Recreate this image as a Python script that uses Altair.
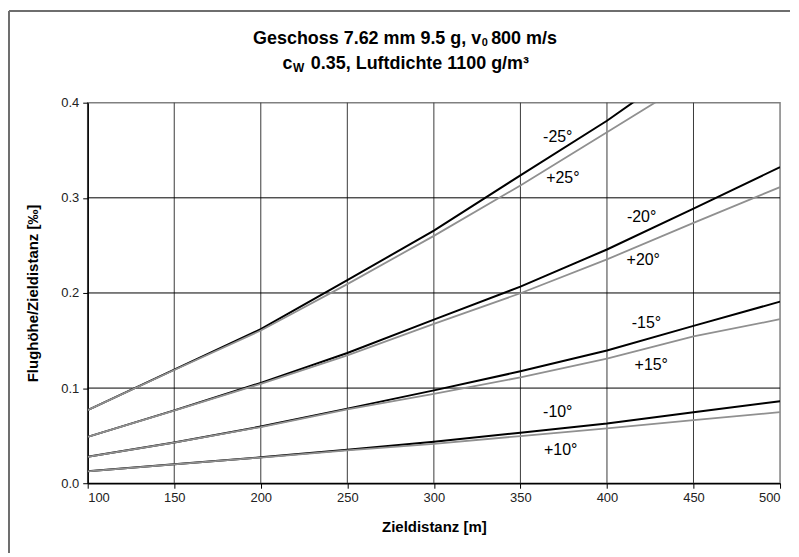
import altair as alt
import pandas as pd

# ---- data ----
distance = [100, 150, 200, 250, 300, 350, 400, 450, 500]
m25 = [0.0769, 0.1194, 0.1620, 0.2135, 0.2655, 0.3236, 0.3810, 0.4450, 0.5100]
p25 = [0.0769, 0.1190, 0.1605, 0.2093, 0.2600, 0.3130, 0.3690, 0.4250, 0.4850]
m20 = [0.0487, 0.0766, 0.1055, 0.1369, 0.1720, 0.2066, 0.2457, 0.2887, 0.3323]
p20 = [0.0487, 0.0763, 0.1045, 0.1344, 0.1675, 0.1997, 0.2353, 0.2736, 0.3113]
m15 = [0.0278, 0.0428, 0.0596, 0.0784, 0.0976, 0.1176, 0.1396, 0.1654, 0.1909]
p15 = [0.0278, 0.0426, 0.0590, 0.0776, 0.0938, 0.1113, 0.1309, 0.1543, 0.1724]
m10 = [0.0125, 0.0199, 0.0272, 0.0351, 0.0436, 0.0531, 0.0628, 0.0747, 0.0862]
p10 = [0.0125, 0.0198, 0.0270, 0.0346, 0.0414, 0.0496, 0.0576, 0.0663, 0.0747]

series_names = ["-25°", "+25°", "-20°", "+20°", "-15°", "+15°", "-10°", "+10°"]
series_values = [m25, p25, m20, p20, m15, p15, m10, p10]
series_kind = ["neg", "pos", "neg", "pos", "neg", "pos", "neg", "pos"]

label_text = ["-25°", "+25°", "-20°", "+20°", "-15°", "+15°", "-10°", "+10°"]
label_x = [371.6, 374.5, 420.0, 421.0, 422.8, 425.6, 371.6, 373.3]
label_y = [0.3637, 0.3204, 0.2801, 0.2346, 0.1686, 0.1246, 0.0744, 0.0349]

x_ticks = [100, 150, 200, 250, 300, 350, 400, 450, 500]
y_ticks = [0.0, 0.1, 0.2, 0.3, 0.4]
x_grid = [150, 200, 250, 300, 350, 400, 450]
y_grid = [0.1, 0.2, 0.3]

rows = []
for name, vals, kind in zip(series_names, series_values, series_kind):
    for d, v in zip(distance, vals):
        rows.append({"series": name, "kind": kind, "dist": d, "val": v})
df = pd.DataFrame(rows)
labels_df = pd.DataFrame({"t": label_text, "dist": label_x, "val": label_y})

W, H = 695, 382
FONT = "Liberation Sans"

xs = alt.Scale(domain=[100, 500], nice=False, zero=False)
ys = alt.Scale(domain=[0, 0.4], nice=False)

xenc = alt.X("dist:Q", scale=xs, axis=alt.Axis(
    values=x_ticks, format="d", grid=False, title="Zieldistanz [m]",
    titleX=W / 2, titleY=43, titleBaseline="middle", titleAlign="center"))
yenc = alt.Y("val:Q", scale=ys, axis=alt.Axis(
    values=y_ticks, format=".1f", grid=False, title="Flughöhe/Zieldistanz [‰]",
    titleX=-55, titleY=H / 2, titleBaseline="middle", titleAlign="center"))

lines = alt.Chart(df).mark_line(clip=True).encode(
    x=xenc, y=yenc,
    detail="series:N",
    color=alt.Color("kind:N", scale=alt.Scale(domain=["neg", "pos"], range=["#000000", "#909090"]), legend=None),
    strokeWidth=alt.StrokeWidth("kind:N", scale=alt.Scale(domain=["neg", "pos"], range=[2.0, 1.8]), legend=None),
)

vgrid = alt.Chart(pd.DataFrame({"g": x_grid})).mark_rule(color="#3a3a3a", strokeWidth=1).encode(
    x=alt.X("g:Q", scale=xs))
hgrid = alt.Chart(pd.DataFrame({"g": y_grid})).mark_rule(color="#000000", strokeWidth=1).encode(
    y=alt.Y("g:Q", scale=ys))

labels = alt.Chart(labels_df).mark_text(font=FONT, fontSize=16, color="#000000",
                                        align="center", baseline="middle").encode(
    x=alt.X("dist:Q", scale=xs), y=alt.Y("val:Q", scale=ys), text="t:N")

one = pd.DataFrame({"a": [0]})
def txt(s, x, y, size=18, align="left", weight="bold"):
    return alt.Chart(one).mark_text(font=FONT, fontSize=size, fontWeight=weight, color="#000000",
                                    align=align, baseline="middle").encode(
        x=alt.value(x), y=alt.value(y), text=alt.value(s))

title_parts = [
    txt("Geschoss 7.62 mm 9.5 g, v", 395, -63.7, align="right"),
    txt("0", 395.5, -59.5, size=11),
    txt("800 m/s", 405, -63.7),
    txt("c", 205.5, -38.7, align="right"),
    txt("W", 206, -34.5, size=12),
    txt("0.35, Luftdichte 1100 g/m³", 224, -38.7),
]

border_top = alt.Chart(one).mark_rule(color="#6e6e6e", strokeWidth=2).encode(
    x=alt.value(-79), x2=alt.value(705), y=alt.value(-92))
border_left = alt.Chart(one).mark_rule(color="#6e6e6e", strokeWidth=2).encode(
    x=alt.value(-79), y=alt.value(-92), y2=alt.value(452))

chart = alt.layer(
    vgrid, hgrid, lines, labels, *title_parts, border_top, border_left
).properties(
    width=W, height=H, padding={"left": 0, "top": 1, "right": 0, "bottom": 0}
).configure_view(
    stroke="#808080", strokeWidth=1.5
).configure_axis(
    labelFont=FONT, labelFontSize=13, labelColor="#222222",
    titleFont=FONT, titleFontSize=15, titleFontWeight="bold", titleColor="#000000",
    domainColor="#000000", domainWidth=1.5, tickColor="#000000", tickSize=5, tickWidth=1,
    labelPadding=3,
).configure_axisY(labelPadding=4)

chart.save("out.html", embed_options={"renderer": "svg", "actions": False})
